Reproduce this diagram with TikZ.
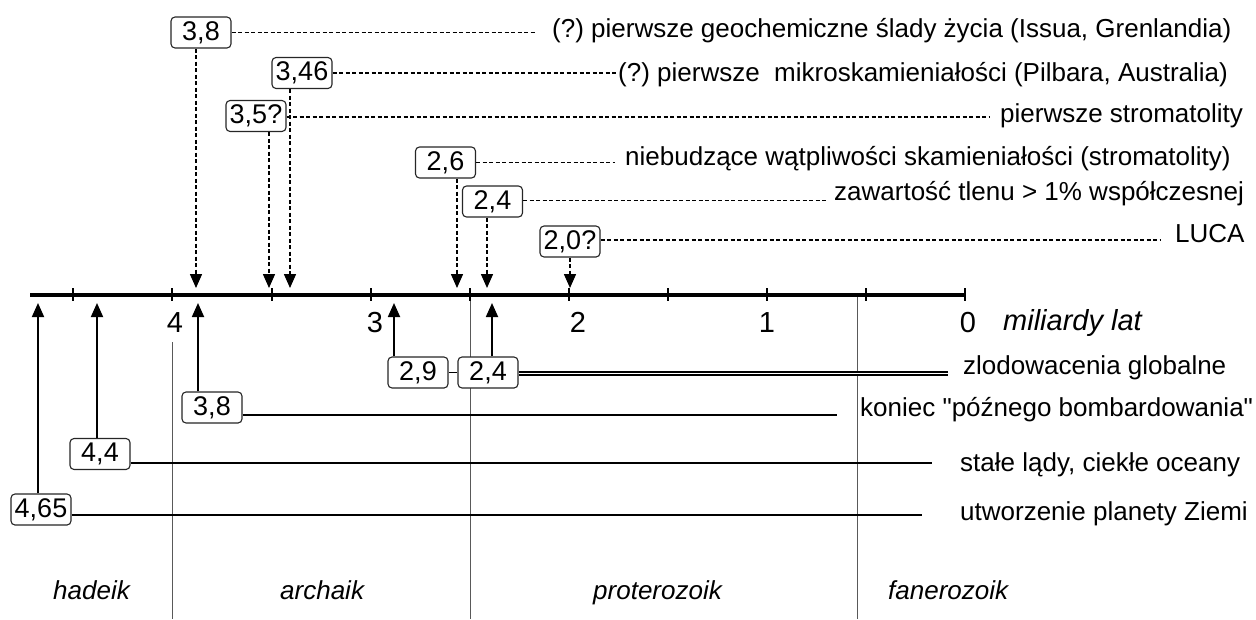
\documentclass[tikz,border=0pt]{standalone}
\usepackage{fontspec}
\setmainfont{Liberation Sans}[Ligatures=TeXOff]
\usetikzlibrary{arrows.meta}
\frenchspacing
\begin{document}
\begin{tikzpicture}[x=1pt,y=-1pt,
  box/.style={draw=black!85, line width=1.1pt, rounded corners=4pt, fill=white,
    minimum width=60pt, minimum height=31pt, inner sep=0pt, font=\fontsize{27}{30}\selectfont},
  lbl/.style={anchor=west, inner sep=0pt, font=\fontsize{26}{30}\selectfont,
    text height=19pt, text depth=5.5pt},
  eralbl/.style={anchor=base west, inner sep=0pt, font=\fontsize{26}{30}\selectfont\itshape},
  axlbl/.style={anchor=base, inner sep=0pt, font=\fontsize{29}{33}\selectfont},
  dline/.style={line width=1.5pt, dash pattern=on 4pt off 2.5pt},
  sline/.style={line width=1.8pt},
  eline/.style={line width=1pt, black!65},
  tip/.style={-{Triangle[length=14pt,width=12pt]}}]
\useasboundingbox (0,0) rectangle (1256,619);

% era boundaries
\draw[eline] (172,342) -- (172,619);
\draw[eline] (470,295) -- (470,619);
\draw[eline] (857,295) -- (857,619);

% axis
\coordinate (ax0) at (30,295);
\coordinate (ax1) at (965,295);
\draw[line width=4.5pt] (ax0) -- (ax1);
\foreach \x in {73,172,272,371,470,569,668,767,866,965}
  \draw[line width=1.5pt] (\x,288) -- (\x,301);

\node[axlbl] (n4) at (175,332.5) {4};
\node[axlbl] (n3) at (375,332.5) {3};
\node[axlbl] (n2) at (578,332.5) {2};
\node[axlbl] (n1) at (767,332.5) {1};
\node[axlbl] (n0) at (968,332.5) {0};
\node[anchor=base west, inner sep=0pt, font=\fontsize{29}{33}\selectfont\itshape] (unit) at (1003,330) {miliardy lat};

% era labels
\node[eralbl] (e1) at (53,599) {hadeik};
\node[eralbl] (e2) at (280,599) {archaik};
\node[eralbl] (e3) at (593,599) {proterozoik};
\node[eralbl] (e4) at (888,599) {fanerozoik};

% upper boxes
\node[box] (B1) at (201,32.5) {3,8};
\node[box] (B2) at (302,73) {3,46};
\node[box] (B3) at (256,116) {3,5?};
\node[box] (B4) at (445.5,162.5) {2,6};
\node[box] (B5) at (492.5,201.5) {2,4};
\node[box] (B6) at (570,241.5) {2,0?};

% upper texts
\node[lbl] (T1) at (552,31) {(?) pierwsze geochemiczne ślady życia (Issua, Grenlandia)};
\node[lbl] (T2) at (618,75) {(?) pierwsze\ \ mikroskamieniałości (Pilbara, Australia)};
\node[lbl] (T3) at (1000,116) {pierwsze stromatolity};
\node[lbl] (T4) at (625,159) {niebudzące wątpliwości skamieniałości (stromatolity)};
\node[lbl] (T5) at (834,194) {zawartość tlenu > 1\% współczesnej};
\node[lbl] (T6) at (1175,235.5) {LUCA};

% lower boxes
\node[box] (L1) at (418,372.5) {2,9};
\node[box] (L2) at (488,372.5) {2,4};
\node[box] (L3) at (212,407.5) {3,8};
\node[box] (L4) at (100,454) {4,4};
\node[box] (L5) at (41,509.5) {4,65};

% lower texts
\node[lbl] (Z) at (963,368) {zlodowacenia globalne};
\node[lbl] (K) at (860,410) {koniec "późnego bombardowania"};
\node[lbl] (S) at (960,465) {stałe lądy, ciekłe oceany};
\node[lbl] (U) at (960,514) {utworzenie planety Ziemi};

% free ends of horizontal connectors
\coordinate (h1) at (535,32.5);
\coordinate (h2) at (617,73);
\coordinate (h3) at (990,117);
\coordinate (h4) at (615,162.5);
\coordinate (h5) at (828,200.5);
\coordinate (h6) at (1160,240);
\coordinate (z2) at (948,373.5);
\coordinate (k3) at (837,415);
\coordinate (s4) at (932,463);
\coordinate (u5) at (922,515);

% arrow tips on the axis
\coordinate (a1) at (196,288);
\coordinate (a2) at (290,288);
\coordinate (a3) at (269,288);
\coordinate (a4) at (457,288);
\coordinate (a5) at (487,288);
\coordinate (a6) at (570,288);
\coordinate (b1) at (394,303);
\coordinate (b2) at (492,303);
\coordinate (b3) at (198,303);
\coordinate (b4) at (97,303);
\coordinate (b5) at (38,303);

% dashed horizontal connectors
\draw[dline] (B1.east) -- (B1.east -| h1);
\draw[dline] (B2.east) -- (B2.east -| h2);
\draw[dline] (B3.east |- h3) -- (h3);
\draw[dline] (B4.east) -- (B4.east -| h4);
\draw[dline] (B5.east |- h5) -- (h5);
\draw[dline] (B6.east |- h6) -- (h6);

% dashed vertical arrows
\draw[dline,tip] (B1.south -| a1) -- (a1);
\draw[dline,tip] (B2.south -| a2) -- (a2);
\draw[dline,tip] (B3.south -| a3) -- (a3);
\draw[dline,tip] (B4.south -| a4) -- (a4);
\draw[dline,tip] (B5.south -| a5) -- (a5);
\draw[dline,tip] (B6.south -| a6) -- (a6);

% solid up arrows
\draw[sline,tip] (L1.north -| b1) -- (b1);
\draw[sline,tip] (L2.north -| b2) -- (b2);
\draw[sline,tip] (L3.north -| b3) -- (b3);
\draw[sline,tip] (L4.north -| b4) -- (b4);
\draw[sline,tip] (L5.north -| b5) -- (b5);

% solid horizontal connectors
\draw[line width=1.5pt] (L1.east) -- (L2.west);
\draw[double, double distance=1.8pt, line width=1.5pt] (L2.east |- z2) -- (z2);
\draw[sline] (L3.east |- k3) -- (k3);
\draw[sline] (L4.east |- s4) -- (s4);
\draw[sline] (L5.east |- u5) -- (u5);
\end{tikzpicture}
\end{document}
